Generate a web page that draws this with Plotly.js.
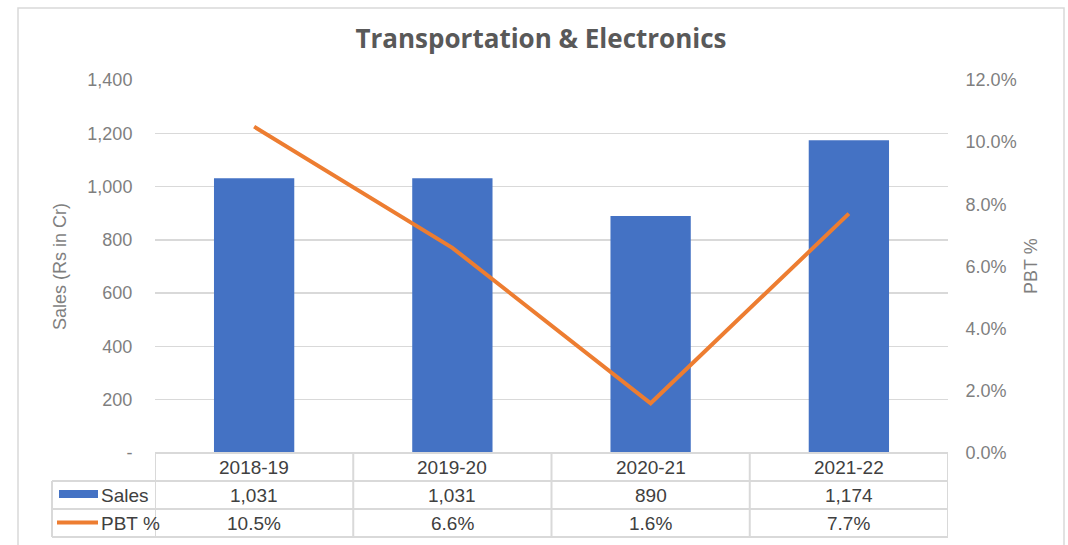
<!DOCTYPE html>
<html>
<head>
<meta charset="utf-8">
<script src="https://cdn.plot.ly/plotly-3.0.1.min.js"></script>
<style>html,body{margin:0;padding:0;background:#fff;}#chart{width:1068px;height:545px;}</style>
</head>
<body>
<div id="chart"></div>
<script>
const categories = ['2018-19', '2019-20', '2020-21', '2021-22'];
const sales = [1031, 1031, 890, 1174];
const pbt = [10.5, 6.6, 1.6, 7.7];
const salesTicks = [0, 200, 400, 600, 800, 1000, 1200, 1400];
const pbtTicks = [0, 2, 4, 6, 8, 10, 12];

const W = 1068, H = 545;
const L = 155, R = 948, T = 80, B = 453;
const px = v => (v - L) / (R - L);
const py = v => (B - v) / (B - T);

const gridC = '#d9d9d9';
const textC = '#404040';
const tickC = '#7f7f7f';
const font = 'Liberation Sans, Arial, sans-serif';

const rows = [453, 481, 509, 537];
const colEdges = [-0.5, 0.5, 1.5, 2.5, 3.5];

const shapes = [];
shapes.push({type:'rect', xref:'paper', yref:'paper', x0:px(18), x1:px(1064), y0:py(560), y1:py(8),
  line:{color:'#d9d9d9', width:1.5}, fillcolor:'rgba(0,0,0,0)', layer:'below'});
shapes.push({type:'line', xref:'paper', yref:'paper', x0:px(L), x1:px(R), y0:py(rows[0]), y1:py(rows[0]), line:{color:gridC, width:2}});
for (let i = 1; i < rows.length; i++) {
  shapes.push({type:'line', xref:'paper', yref:'paper', x0:px(52), x1:px(R), y0:py(rows[i]), y1:py(rows[i]), line:{color:gridC, width:2}});
}
shapes.push({type:'line', xref:'paper', yref:'paper', x0:px(52), x1:px(52), y0:py(rows[1]), y1:py(rows[3]), line:{color:gridC, width:2}});
colEdges.forEach(e => {
  shapes.push({type:'line', xref:'x', yref:'paper', x0:e, x1:e, y0:py(rows[0]), y1:py(rows[3]), line:{color:gridC, width:2}});
});
shapes.push({type:'rect', xref:'paper', yref:'paper', x0:px(59), x1:px(98), y0:py(498), y1:py(490), fillcolor:'#4472C4', line:{width:0}});
shapes.push({type:'line', xref:'paper', yref:'paper', x0:px(57), x1:px(98), y0:py(522.5), y1:py(522.5), line:{color:'#ED7D31', width:4}});

const annotations = [];
const cellFont = {family:font, size:19, color:textC};
const midRow = i => py((rows[i] + rows[i+1]) / 2);
const cell = (x, xref, y, text, xanchor) => ({xref:xref, yref:'paper', x:x, y:y, text:text, showarrow:false,
  xanchor:xanchor || 'center', yanchor:'middle', font:cellFont});
categories.forEach((c, i) => {
  annotations.push(cell(i, 'x', midRow(0), c));
  annotations.push(cell(i, 'x', midRow(1), sales[i].toLocaleString('en-US')));
  annotations.push(cell(i, 'x', midRow(2), pbt[i].toFixed(1) + '%'));
});
annotations.push(cell(px(99), 'paper', midRow(1), 'Sales', 'left'));
annotations.push(cell(px(99), 'paper', midRow(2), 'PBT %', 'left'));
annotations.push({xref:'paper', yref:'paper', x:px(60), y:py(267), text:'Sales (Rs in Cr)', textangle:-90, showarrow:false,
  xanchor:'center', yanchor:'middle', font:{family:font, size:18, color:tickC}});
annotations.push({xref:'paper', yref:'paper', x:px(1031), y:py(266), text:'PBT %', textangle:-90, showarrow:false,
  xanchor:'center', yanchor:'middle', font:{family:font, size:18, color:tickC}});

const data = [
  {type:'bar', x:categories, y:sales, name:'Sales', marker:{color:'#4472C4'}, yaxis:'y'},
  {type:'scatter', mode:'lines', x:categories, y:pbt, name:'PBT %', line:{color:'#ED7D31', width:4}, yaxis:'y2'}
];

const layout = {
  width: W, height: H,
  margin: {l:L, r:W - R, t:T, b:H - B, pad:0},
  paper_bgcolor:'#fff', plot_bgcolor:'rgba(0,0,0,0)',
  showlegend:false,
  bargap:0.595,
  title:{text:'<b>Transportation &amp; Electronics</b>', x:541/W, xanchor:'center', y:1 - 39/H, yanchor:'middle',
    font:{family:'Open Sans, sans-serif', size:26, color:'#595959'}},
  xaxis:{type:'category', range:[-0.5, 3.5], showticklabels:false, showgrid:false, zeroline:false, showline:false, ticks:''},
  yaxis:{range:[0, 1400], tickvals:salesTicks, ticktext:salesTicks.map(v => v === 0 ? '-' : v.toLocaleString('en-US')),
    showgrid:true, gridcolor:gridC, gridwidth:1.5, zeroline:false, showline:false,
    ticks:'outside', ticklen:18, tickcolor:'rgba(0,0,0,0)', tickfont:{family:font, size:18, color:tickC}},
  yaxis2:{range:[0, 12], overlaying:'y', side:'right', tickvals:pbtTicks, ticktext:pbtTicks.map(v => v.toFixed(1) + '%'),
    showgrid:false, zeroline:false, showline:false,
    ticks:'outside', ticklen:13, tickcolor:'rgba(0,0,0,0)', tickfont:{family:font, size:18, color:tickC}},
  shapes: shapes,
  annotations: annotations
};

Plotly.newPlot('chart', data, layout, {displayModeBar:false, staticPlot:true});
</script>
</body>
</html>
